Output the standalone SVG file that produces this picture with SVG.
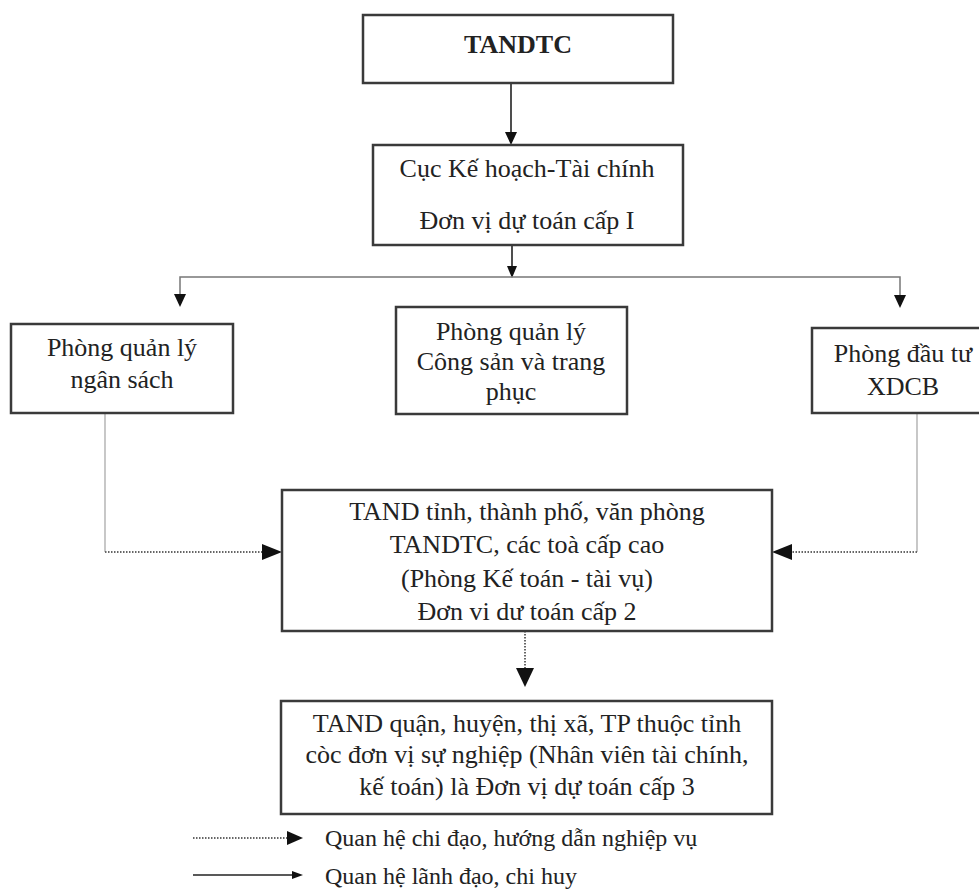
<svg xmlns="http://www.w3.org/2000/svg" width="979" height="892" viewBox="0 0 979 892">
<style>
  text { font-family: "Liberation Serif", "Times New Roman", serif; font-size: 26px; fill: #222; text-anchor: middle; }
  .box { fill: #fff; stroke: #3a3a3a; stroke-width: 2.5; }
  .bold { font-weight: bold; }
  .legend { font-size: 24px; text-anchor: start; }
  .solid { stroke: #222; stroke-width: 1.6; fill: none; }
  .thin { stroke: #777; stroke-width: 1.5; fill: none; }
  .gray { stroke: #aaa; stroke-width: 1.3; fill: none; }
  .dot { stroke: #666; stroke-width: 2; stroke-dasharray: 1.5 1.5; fill: none; }
  .head { fill: #111; }
</style>
<rect width="979" height="892" fill="#fff"/>

<g id="connectors">
  <!-- TANDTC -> Cuc -->
  <line class="solid" x1="511" y1="83" x2="511" y2="134"/>
  <polygon class="head" points="505,132 517,132 511,145"/>
  <!-- Cuc -> bus -->
  <line class="solid" x1="512" y1="245" x2="512" y2="268"/>
  <polygon class="head" points="507,266 517,266 512,278"/>
  <!-- bus -->
  <polyline class="thin" points="180,296 180,277 900,277 900,297"/>
  <polygon class="head" points="174,294 186,294 180,307"/>
  <polygon class="head" points="894,295 906,295 900,308"/>
  <!-- left dotted -->
  <line class="gray" x1="105" y1="413" x2="105" y2="552"/>
  <line class="dot" x1="105" y1="552" x2="264" y2="552"/>
  <polygon class="head" points="262,544 262,560 282,552"/>
  <!-- right dotted -->
  <line class="gray" x1="917" y1="413" x2="917" y2="552"/>
  <line class="dot" x1="917" y1="552" x2="790" y2="552"/>
  <polygon class="head" points="792,544 792,560 772,552"/>
  <!-- down dotted -->
  <line class="dot" x1="525" y1="631" x2="525" y2="670"/>
  <polygon class="head" points="516,668 534,668 525,687"/>
  <!-- legend -->
  <line class="dot" x1="193" y1="838" x2="289" y2="838"/>
  <polygon class="head" points="287,831 287,845 303,838"/>
  <line class="solid" x1="193" y1="875" x2="294" y2="875"/>
  <polygon class="head" points="292,871 292,879 303,875"/>
</g>

<g id="tandtc">
  <rect class="box" x="363" y="15" width="310" height="68"/>
  <text class="bold" x="518" y="53">TANDTC</text>
</g>

<g id="cuc">
  <rect class="box" x="373" y="145" width="310" height="100"/>
  <text x="527" y="177">Cục Kế hoạch-Tài chính</text>
  <text x="527" y="229">Đơn vị dự toán cấp I</text>
</g>

<g id="phong-ngan-sach">
  <rect class="box" x="11" y="324" width="222" height="89"/>
  <text x="122" y="356">Phòng quản lý</text>
  <text x="122" y="388">ngân sách</text>
</g>

<g id="phong-cong-san">
  <rect class="box" x="396" y="307" width="231" height="107"/>
  <text x="511" y="340">Phòng quản lý</text>
  <text x="511" y="370">Công sản và trang</text>
  <text x="511" y="400">phục</text>
</g>

<g id="phong-dau-tu">
  <rect class="box" x="812" y="328" width="190" height="85"/>
  <text x="903" y="362">Phòng đầu tư</text>
  <text x="903" y="395">XDCB</text>
</g>

<g id="tand-tinh">
  <rect class="box" x="282" y="490" width="490" height="141"/>
  <text x="527" y="520">TAND tỉnh, thành phố, văn phòng</text>
  <text x="527" y="553">TANDTC, các toà cấp cao</text>
  <text x="527" y="587">(Phòng Kế toán - tài vụ)</text>
  <text x="527" y="620">Đơn vi dư toán cấp 2</text>
</g>

<g id="tand-quan">
  <rect class="box" x="281" y="701" width="491" height="113"/>
  <text x="527" y="732">TAND quận, huyện, thị xã, TP thuộc tỉnh</text>
  <text x="527" y="763">còc đơn vị sự nghiệp (Nhân viên tài chính,</text>
  <text x="527" y="795">kế toán) là Đơn vị dự toán cấp 3</text>
</g>

<g id="legend">
  <text class="legend" x="325" y="846">Quan hệ chi đạo, hướng dẫn nghiệp vụ</text>
  <text class="legend" x="325" y="884">Quan hệ lãnh đạo, chi huy</text>
</g>
</svg>
